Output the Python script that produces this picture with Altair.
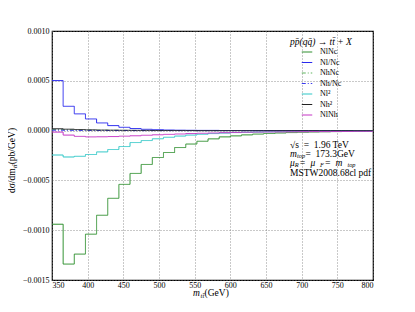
import altair as alt
import pandas as pd

# bin edges (GeV)
bin_edges = [350.0, 365.625, 381.25, 396.875, 412.5, 428.125, 443.75, 459.375,
             475.0, 490.625, 506.25, 521.875, 537.5, 553.125, 568.75, 584.375,
             600.0, 615.625, 631.25, 646.875, 662.5, 678.125, 693.75, 709.375,
             725.0, 740.625, 756.25, 771.875, 787.5, 803.125]

series_names = ["NlNc", "Nl/Nc", "NhNc", "Nh/Nc", "Nl²", "Nh²", "NlNh"]

nlnc = [-0.00094, -0.00134, -0.00124, -0.00104, -0.00085, -0.00068, -0.00054, -0.00043,
        -0.00034, -0.00027, -0.00022, -0.00017, -0.000135, -0.000107, -0.000083, -0.000063,
        -0.000053, -0.000043, -0.000035, -0.000029, -0.000024, -0.00002, -0.000017, -0.000014,
        -0.000012, -0.00001, -0.000008, -0.000007, -0.000006]
nl_over_nc = [0.000502, 0.000244, 0.000168, 0.000117, 0.000077, 0.00005, 0.000033, 0.00002,
              0.000013, 0.000009, 0.000006, 0.000004, 0.000003, 0.000002, 0.000002, 0.000001,
              0.000001, 0.000001, 0.000001, 0.0, 0.0, 0.0, 0.0, 0.0,
              0.0, 0.0, 0.0, 0.0, 0.0]
nhnc = [0.00001, 0.000008, 0.000006, 0.000005, 0.000004, 0.000003, 0.000002, 0.000002,
        0.000001, 0.000001, 0.000001, 0.000001, 0.0, 0.0, 0.0, 0.0,
        0.0, 0.0, 0.0, 0.0, 0.0, 0.0, 0.0, 0.0,
        0.0, 0.0, 0.0, 0.0, 0.0]
nh_over_nc = [0.000004, 0.000003, 0.000002, 0.000002, 0.000001, 0.000001, 0.000001, 0.0,
              0.0, 0.0, 0.0, 0.0, 0.0, 0.0, 0.0, 0.0,
              0.0, 0.0, 0.0, 0.0, 0.0, 0.0, 0.0, 0.0,
              0.0, 0.0, 0.0, 0.0, 0.0]
nl2 = [-0.000245, -0.000265, -0.000258, -0.00024, -0.000214, -0.00019, -0.00016, -0.00012,
       -0.0001, -0.000082, -0.000067, -0.000055, -0.000045, -0.000037, -0.00003, -0.000025,
       -0.00002, -0.000017, -0.000014, -0.000012, -0.00001, -0.000009, -0.000008, -0.000007,
       -0.000006, -0.000005, -0.000005, -0.000004, -0.000004]
nh2 = [0.000018, 0.000014, 0.00001, 0.000007, 0.000005, 0.000004, 0.000003, 0.000002,
       0.000002, 0.000001, 0.000001, 0.000001, 0.000001, 0.0, 0.0, 0.0,
       0.0, 0.0, 0.0, 0.0, 0.0, 0.0, 0.0, 0.0,
       0.0, 0.0, 0.0, 0.0, 0.0]
nlnh = [-0.000015, -0.000045, -0.000058, -0.000063, -0.000062, -0.00006, -0.000056, -0.000052,
        -0.000047, -0.000042, -0.000038, -0.000034, -0.00003, -0.000027, -0.000024, -0.000021,
        -0.000019, -0.000017, -0.000015, -0.000014, -0.000013, -0.000012, -0.000011, -0.00001,
        -0.00001, -0.000009, -0.000009, -0.000008, -0.000008]

series_values = [nlnc, nl_over_nc, nhnc, nh_over_nc, nl2, nh2, nlnh]
colors = ["#2e8f2e", "#2a2aee", "#5fb35f", "#3a3aee", "#2cc6c6", "#222222", "#c435c4"]
dashes = [[1, 0], [1, 0], [4, 2, 1, 2], [4, 2, 1, 2], [1, 0], [1, 0], [1, 0]]

x_ticks = [350, 400, 450, 500, 550, 600, 650, 700, 750, 800]
y_ticks = [-0.0015, -0.0010, -0.0005, 0.0, 0.0005, 0.0010]

rows = []
for name, vals in zip(series_names, series_values):
    for i, e in enumerate(bin_edges):
        rows.append({"series": name, "x": e, "y": vals[min(i, len(vals) - 1)]})
df = pd.DataFrame(rows)

SERIF = "Liberation Serif"

leg = alt.Legend(
    title=None, orient="none", legendX=249, legendY=15,
    symbolType="stroke", symbolSize=110, symbolStrokeWidth=1.2,
    labelFont=SERIF, labelFontSize=8, labelColor="black",
    rowPadding=0.5, labelOffset=7, padding=0,
)

lines = alt.Chart(df).mark_line(interpolate="step-after", strokeWidth=1, clip=True).encode(
    x=alt.X("x:Q", scale=alt.Scale(domain=[350, 800], nice=False, zero=False),
            axis=alt.Axis(values=x_ticks, title=None, format="d", labelPadding=1)),
    y=alt.Y("y:Q", scale=alt.Scale(domain=[-0.0015, 0.0010], nice=False),
            axis=alt.Axis(values=y_ticks, format=".4f", title=None, labelPadding=3)),
    color=alt.Color("series:N", scale=alt.Scale(domain=series_names, range=colors), legend=leg),
    strokeDash=alt.StrokeDash("series:N", scale=alt.Scale(domain=series_names, range=dashes), legend=leg),
)

one = pd.DataFrame({"a": [0]})


def label(txt, px, py, size=9.5, style="normal", angle=0):
    return alt.Chart(one).mark_text(align="left", baseline="middle", font=SERIF,
                                    fontSize=size, fontStyle=style, color="black",
                                    angle=angle).encode(
        x=alt.value(px), y=alt.value(py), text=alt.value(txt))


SP = "\u2002"
NB = "\u00a0"
texts = [
    # legend title
    label("pp̄(qq̄) → tt̄ + X", 238, 10.7, 9.5, "italic"),
    # annotation block
    label("√s" + SP + "=" + SP + "1.96 TeV", 238, 114.0),
    label("m", 238, 123.4, 9.5, "italic"),
    label("top", 245.0, 125.3, 6.3, "italic"),
    label(SP + "=" + SP + "173.3GeV", 253.5, 123.4),
    label("μ", 238, 132.3, 9.5, "italic"),
    label("R", 242.8, 134.2, 6.3, "italic"),
    label(SP + "=" + SP + "μ", 247.3, 132.3, 9.5, "italic"),
    label("F", 268.1, 134.2, 6.3, "italic"),
    label(SP + "=" + SP + "m", 272.4, 132.3, 9.5, "italic"),
    label("top", 295.4, 134.2, 6.3, "italic"),
    label("MSTW2008.68cl pdf", 238, 141.8),
    # x axis title
    label("m", 141, 262, 9.5, "italic"),
    label("tt̄", 148.6, 264.5, 6.5, "italic"),
    label(NB + "(GeV)", 152.6, 262, 9.5),
    # y axis title (rotated)
    label("dσ/dm", -40, 162, 9.5, "normal", 270),
    label("tt̄", -37.5, 137.1, 6.5, "italic", 270),
    label(NB + "(pb/GeV)", -40, 133.3, 9.5, "normal", 270),
]

chart = alt.layer(lines, *texts).properties(
    width=321, height=249,
    autosize=alt.AutoSizeParams(type="none"),
    padding={"left": 44, "top": 23, "right": 30, "bottom": 28},
).configure_view(stroke="black", strokeWidth=1.2).configure_axis(
    labelFont=SERIF, labelFontSize=8, labelColor="black",
    grid=True, gridColor="#777777", gridDash=[1, 2], gridWidth=0.8,
    ticks=False, domain=False,
)

chart.save("out.html", embed_options={"renderer": "svg", "actions": False})
